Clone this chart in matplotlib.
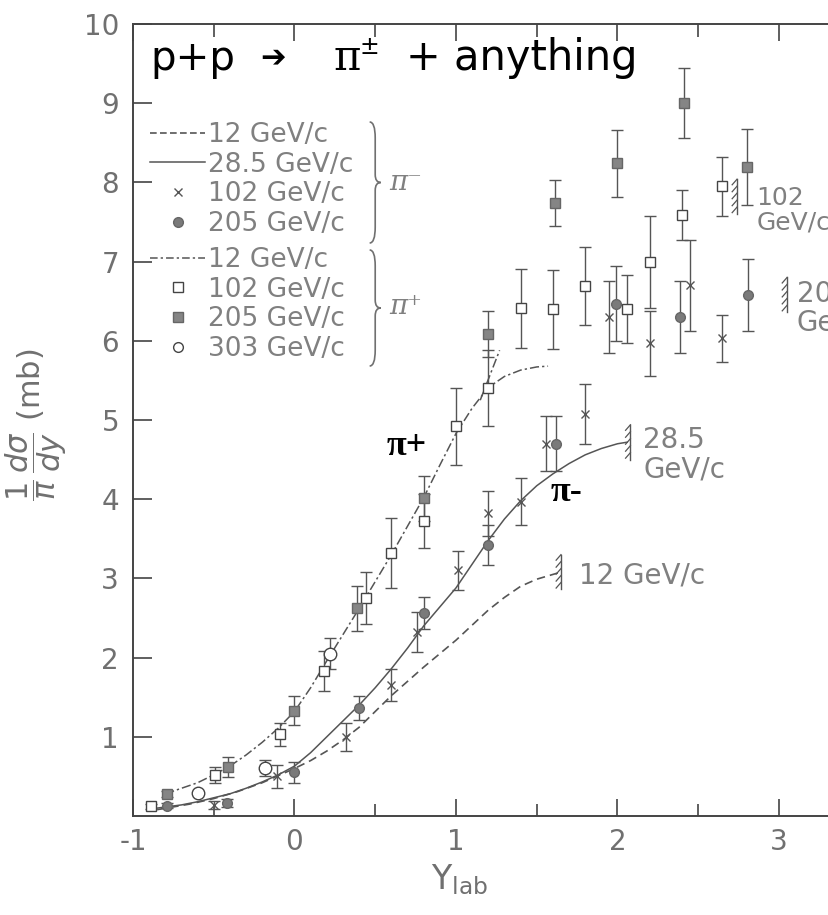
import numpy as np
import matplotlib
matplotlib.use("Agg")
import matplotlib.pyplot as plt
from matplotlib.lines import Line2D
from matplotlib.path import Path
from matplotlib.patches import PathPatch

plt.rcParams["axes.unicode_minus"] = False

# pi- data, 102 GeV/c (crosses)
pim102_y_lab = [-0.50, -0.11, 0.32, 0.60, 0.76, 1.01, 1.20, 1.40, 1.56, 1.80, 1.95, 2.20, 2.45, 2.65]
pim102_val = [0.14, 0.50, 1.00, 1.65, 2.32, 3.10, 3.82, 3.97, 4.70, 5.08, 6.30, 5.97, 6.70, 6.03]
pim102_err = [0.05, 0.15, 0.18, 0.20, 0.25, 0.25, 0.28, 0.30, 0.35, 0.38, 0.46, 0.41, 0.57, 0.30]

# pi- data, 205 GeV/c (filled circles)
pim205_y_lab = [-0.79, -0.42, 0.00, 0.40, 0.80, 1.20, 1.62, 1.99, 2.39, 2.81]
pim205_val = [0.13, 0.16, 0.55, 1.36, 2.56, 3.42, 4.70, 6.47, 6.30, 6.58]
pim205_err = [0.03, 0.05, 0.13, 0.15, 0.20, 0.25, 0.35, 0.47, 0.45, 0.45]

# pi+ data, 102 GeV/c (open squares)
pip102_y_lab = [-0.89, -0.49, -0.09, 0.18, 0.44, 0.60, 0.80, 1.00, 1.20, 1.40, 1.60, 1.80, 2.06, 2.20, 2.40, 2.65]
pip102_val = [0.12, 0.52, 1.03, 1.83, 2.75, 3.32, 3.72, 4.92, 5.41, 6.41, 6.40, 6.69, 6.40, 7.00, 7.59, 7.95]
pip102_err = [0.03, 0.10, 0.15, 0.25, 0.33, 0.44, 0.34, 0.49, 0.48, 0.50, 0.50, 0.49, 0.43, 0.58, 0.32, 0.37]

# pi+ data, 205 GeV/c (filled squares)
pip205_y_lab = [-0.79, -0.41, 0.00, 0.39, 0.80, 1.20, 1.61, 2.00, 2.41, 2.80]
pip205_val = [0.28, 0.62, 1.33, 2.62, 4.01, 6.09, 7.74, 8.24, 9.00, 8.20]
pip205_err = [0.04, 0.13, 0.18, 0.28, 0.28, 0.29, 0.29, 0.42, 0.44, 0.48]

# pi+ data, 303 GeV/c (open circles)
pip303_y_lab = [-0.60, -0.18, 0.22]
pip303_val = [0.29, 0.61, 2.05]
pip303_err = [0.03, 0.10, 0.20]

# fitted curves
pim12_curve_x = [-0.85, -0.65, -0.5, -0.35, -0.2, -0.1, 0.0, 0.1, 0.2, 0.3, 0.4, 0.5, 0.6, 0.7,
                 0.8, 0.9, 1.0, 1.1, 1.2, 1.3, 1.4, 1.5, 1.65]
pim12_curve_y = [0.08, 0.15, 0.22, 0.31, 0.42, 0.51, 0.60, 0.70, 0.82, 0.96, 1.12, 1.32, 1.52, 1.70,
                 1.88, 2.05, 2.22, 2.41, 2.60, 2.76, 2.90, 2.99, 3.08]
pim285_curve_x = [-0.85, -0.7, -0.6, -0.5, -0.4, -0.3, -0.2, -0.1, 0.0, 0.1, 0.2, 0.3, 0.4, 0.5,
                  0.6, 0.7, 0.8, 0.9, 1.0, 1.1, 1.2, 1.3, 1.4, 1.5, 1.6, 1.7, 1.8, 1.9, 2.0, 2.06]
pim285_curve_y = [0.10, 0.14, 0.18, 0.23, 0.28, 0.35, 0.43, 0.52, 0.63, 0.80, 1.00, 1.20, 1.40, 1.62,
                  1.86, 2.12, 2.40, 2.64, 2.88, 3.18, 3.48, 3.75, 3.98, 4.17, 4.32, 4.45, 4.56, 4.64, 4.70, 4.72]
pip12_curve_x = [-0.8, -0.7, -0.6, -0.5, -0.4, -0.3, -0.2, -0.1, 0.0, 0.1, 0.2, 0.3, 0.4, 0.5, 0.6,
                 0.7, 0.8, 0.9, 1.0, 1.1, 1.2, 1.3, 1.4, 1.5, 1.57]
pip12_curve_y = [0.28, 0.35, 0.42, 0.52, 0.63, 0.77, 0.93, 1.11, 1.32, 1.62, 1.96, 2.29, 2.62, 2.96, 3.30,
                 3.66, 4.02, 4.43, 4.83, 5.15, 5.41, 5.55, 5.63, 5.67, 5.68]
pip_steep_x = [1.15, 1.27]
pip_steep_y = [5.25, 5.88]

# kinematic limits and their labels
limit_x = [1.65, 2.08, 2.74, 3.05]
limit_y = [3.08, 4.72, 7.82, 6.58]
limit_labels = ["12 GeV/c", "28.5\nGeV/c", "102\nGeV/c", "205\nGeV/c"]
limit_label_x = [1.76, 2.16, 2.86, 3.11]
limit_label_y = [3.04, 4.56, 7.65, 6.41]
limit_label_size = [20, 20, 18, 20]

INK = "#555555"
GREY_TXT = "#808080"
FONT = "DejaVu Sans"

fig = plt.figure(figsize=(8.29, 9.15), dpi=100)
ax = fig.add_axes([133 / 829, 99 / 915, 696 / 829, 792 / 915])
ax.set_xlim(-1, -1 + 696 / 161.5)
ax.set_ylim(0, 10)

# curves
ax.plot(pim12_curve_x, pim12_curve_y, color=INK, lw=1.2, ls=(0, (5, 3)))
ax.plot(pim285_curve_x, pim285_curve_y, color=INK, lw=1.1, ls="-")
ax.plot(pip12_curve_x, pip12_curve_y, color=INK, lw=1.1, ls=(0, (6, 2, 1.5, 2)))
ax.plot(pip_steep_x, pip_steep_y, color=INK, lw=1.1, ls=(0, (6, 2, 1.5, 2)))

eb = dict(ls="none", ecolor=INK, elinewidth=1.0, capsize=4, capthick=1.0)
ax.errorbar(pim102_y_lab, pim102_val, yerr=pim102_err, fmt="x", ms=6, mew=1.0, color=INK, **eb)
ax.errorbar(pim205_y_lab, pim205_val, yerr=pim205_err, fmt="o", ms=7, mfc="#7a7a7a", mec="#666666", **eb)
ax.errorbar(pip102_y_lab, pip102_val, yerr=pip102_err, fmt="s", ms=7, mfc="white", mec="#444444", mew=1.0, **eb)
ax.errorbar(pip205_y_lab, pip205_val, yerr=pip205_err, fmt="s", ms=7, mfc="#858585", mec="#666666", **eb)
ax.errorbar(pip303_y_lab, pip303_val, yerr=pip303_err, fmt="o", ms=9, mfc="white", mec="#444444", mew=1.0, **eb)


def hatch_wall(ax, x, y, h=0.22):
    # short wall with diagonal hatching marking a kinematic limit
    ax.plot([x, x], [y - h, y + h], color=INK, lw=1.0)
    for yy in np.linspace(y - h, y + h, 6)[1:]:
        ax.plot([x - 0.03, x], [yy - 0.07, yy], color=INK, lw=0.9)


for x, y in zip(limit_x, limit_y):
    hatch_wall(ax, x, y)
for lx, ly, lab, fs in zip(limit_label_x, limit_label_y, limit_labels, limit_label_size):
    ax.text(lx, ly, lab, fontsize=fs, color=GREY_TXT, family=FONT, va="center",
            ha="left", linespacing=1.05, clip_on=False)

# axes styling
for side in ["left", "bottom", "top"]:
    ax.spines[side].set_color("#444444")
    ax.spines[side].set_linewidth(1.4)
ax.spines["right"].set_visible(False)
ax.set_xticks([-1, 0, 1, 2, 3])
ax.set_xticks(np.arange(-0.5, 3.3, 1.0), minor=True)
ax.set_yticks(range(1, 11))
ax.tick_params(axis="x", which="both", direction="in", top=True, bottom=True,
               color="#444444", labelsize=20, labelcolor="#707070", pad=9)
ax.tick_params(axis="x", which="major", length=12, width=1.2)
ax.tick_params(axis="x", which="minor", length=9, width=1.2)
ax.tick_params(axis="y", direction="in", length=14, width=1.2, color="#444444",
               labelsize=20, labelcolor="#707070", pad=10)
for lab in ax.get_xticklabels() + ax.get_yticklabels():
    lab.set_family(FONT)

fig.text(460 / 829, 1 - 880 / 915, r"$\mathregular{Y_{lab}}$", fontsize=24,
         color="#707070", ha="center", va="center")
fig.text(36 / 829, 1 - 425 / 915, r"$\dfrac{1}{\pi}\,\dfrac{d\sigma}{dy}$ (mb)", fontsize=22,
         color="#707070", rotation=90, ha="center", va="center", family=FONT)

# legend blocks
h_dash = Line2D([], [], color=INK, lw=1.2, ls=(0, (4, 2)))
h_solid = Line2D([], [], color=INK, lw=1.1)
h_x = Line2D([], [], ls="none", marker="x", ms=6, color=INK)
h_dot = Line2D([], [], ls="none", marker="o", ms=7, mfc="#7a7a7a", mec="#666666")
h_dd = Line2D([], [], color=INK, lw=1.1, ls=(0, (5, 2, 1.5, 2)))
h_sq = Line2D([], [], ls="none", marker="s", ms=7, mfc="white", mec="#444444")
h_fsq = Line2D([], [], ls="none", marker="s", ms=7, mfc="#858585", mec="#666666")
h_oc = Line2D([], [], ls="none", marker="o", ms=7, mfc="white", mec="#444444")

leg_kw = dict(loc="upper left", frameon=False, prop={"family": FONT, "size": 19},
              handlelength=2.1, handletextpad=0.1, labelspacing=0.14,
              borderpad=0, borderaxespad=0, labelcolor="#808080")
leg1 = ax.legend([h_dash, h_solid, h_x, h_dot],
                 ["12 GeV/c", "28.5 GeV/c", "102 GeV/c", "205 GeV/c"],
                 bbox_to_anchor=(17 / 696, (816 - 122) / 792), **leg_kw)
ax.add_artist(leg1)
ax.legend([h_dd, h_sq, h_fsq, h_oc],
          ["12 GeV/c", "102 GeV/c", "205 GeV/c", "303 GeV/c"],
          bbox_to_anchor=(17 / 696, (816 - 247) / 792), **leg_kw)


def brace(ax, x, y0, y1, w=0.008):
    # right-pointing curly brace in axes coordinates
    ym = 0.5 * (y0 + y1)
    verts = [(x, y0), (x + w, y0), (x + w, y0 - 0.02),
             (x + w, ym + 0.01), (x + w, ym), (x + 2 * w, ym),
             (x + w, ym), (x + w, ym - 0.01),
             (x + w, y1 + 0.02), (x + w, y1), (x, y1)]
    codes = [Path.MOVETO, Path.CURVE3, Path.CURVE3,
             Path.LINETO, Path.CURVE3, Path.CURVE3,
             Path.CURVE3, Path.CURVE3,
             Path.LINETO, Path.CURVE3, Path.CURVE3]
    ax.add_patch(PathPatch(Path(verts, codes), transform=ax.transAxes, fill=False,
                           ec="#707070", lw=1.2))


brace(ax, 0.34, (816 - 122) / 792, (816 - 243) / 792)
brace(ax, 0.34, (816 - 250) / 792, (816 - 366) / 792)
ax.text(0.368, (816 - 183) / 792, "\u03c0\u207b", transform=ax.transAxes, fontsize=20,
        color="#808080", family="DejaVu Serif", style="italic", va="center")
ax.text(0.368, (816 - 306) / 792, "\u03c0\u207a", transform=ax.transAxes, fontsize=20,
        color="#808080", family="DejaVu Serif", style="italic", va="center")

# title and curve tags
ax.text(-0.89, 9.42, "p+p", fontsize=29, family=FONT, color="black", va="baseline")
ax.text(-0.21, 9.47, "\u2794", fontsize=22, family=FONT, color="black", va="baseline",
        weight="bold")
ax.text(0.24, 9.42, "\u03c0", fontsize=30, family="DejaVu Serif", color="black", va="baseline")
ax.text(0.40, 9.62, "\u00b1", fontsize=17, family=FONT, color="black", va="baseline")
ax.text(0.69, 9.42, "+ anything", fontsize=30, family=FONT, color="black", va="baseline")
ax.text(0.57, 4.66, "\u03c0+", fontsize=26, family="Liberation Serif", weight="bold",
        color="black", va="center")
ax.text(1.585, 4.09, "\u03c0-", fontsize=26, family="Liberation Serif", weight="bold",
        color="black", va="center")

fig.savefig("out.png", dpi=100, facecolor="white")
